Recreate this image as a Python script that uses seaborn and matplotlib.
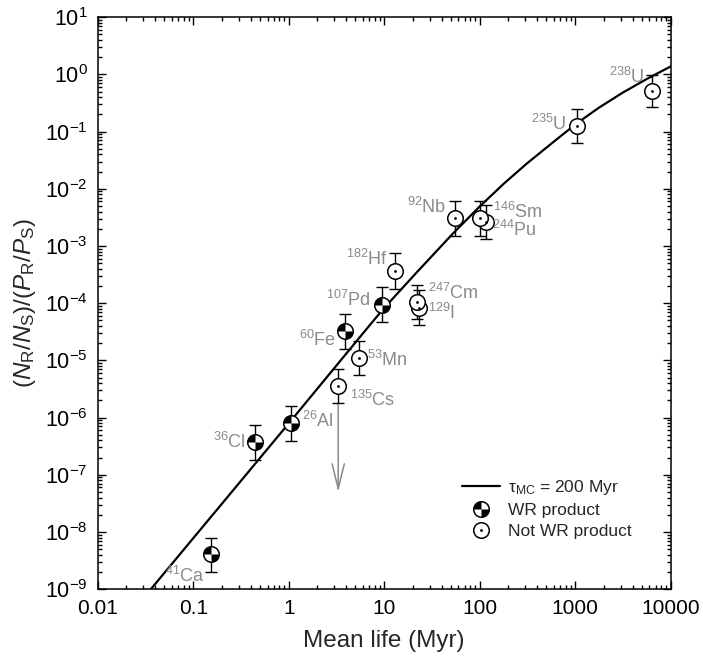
import matplotlib
matplotlib.use("Agg")
import matplotlib.pyplot as plt
import seaborn as sns
import pandas as pd
from matplotlib.path import Path
from matplotlib.lines import Line2D
from matplotlib.ticker import LogLocator, FixedLocator, FuncFormatter, NullFormatter

# style
sns.set_style("ticks")
plt.rcParams["font.family"] = ["Liberation Sans", "DejaVu Sans"]
plt.rcParams["mathtext.fontset"] = "custom"
plt.rcParams["mathtext.rm"] = "Liberation Sans"
plt.rcParams["mathtext.it"] = "Liberation Sans:italic"
plt.rcParams["mathtext.default"] = "regular"

# DATA
isotopes = ["41Ca", "36Cl", "26Al", "60Fe", "135Cs", "53Mn", "107Pd", "182Hf",
            "129I", "247Cm", "92Nb", "244Pu", "146Sm", "235U", "238U"]
mean_life = [0.152, 0.44, 1.05, 3.85, 3.3, 5.4, 9.4, 12.9,
             23.0, 21.8, 55, 117, 100, 1035, 6450]
ratio = [4.1e-9, 3.7e-7, 7.9e-7, 3.3e-5, 3.6e-6, 1.1e-5, 9.3e-5, 3.7e-4,
         8.4e-5, 1.07e-4, 3.1e-3, 2.6e-3, 3.1e-3, 0.125, 0.51]
ratio_low = [2.0e-9, 1.8e-7, 3.9e-7, 1.6e-5, 1.8e-6, 5.5e-6, 4.6e-5, 1.8e-4,
             4.2e-5, 5.3e-5, 1.5e-3, 1.3e-3, 1.5e-3, 0.063, 0.27]
ratio_high = [8.0e-9, 7.4e-7, 1.6e-6, 6.6e-5, 7.0e-6, 2.2e-5, 1.9e-4, 7.4e-4,
              1.7e-4, 2.1e-4, 6.2e-3, 5.2e-3, 6.2e-3, 0.25, 0.98]
wr_product = [True, True, True, True, False, False, True, False,
              False, False, False, False, False, False, False]

# 135Cs upper limit arrow end
cs_limit = 5e-8

# model curve, tau_MC = 200 Myr
curve_tau = [0.036, 1.0, 6.5, 9.7, 21.7, 52.6, 100, 178, 308, 562, 1030,
             1780, 3160, 5620, 9770, 10000]
curve_ratio = [1.0e-9, 7.9e-7, 3.5e-5, 7.8e-5, 3.4e-4, 1.66e-3, 4.9e-3, 1.22e-2,
               2.72e-2, 6.15e-2, 0.138, 0.263, 0.482, 0.832, 1.35, 1.38]

# label offsets in pixels (dx, dy, ha)
label_pos = {
    "41Ca": (-6, -22, "right"), "36Cl": (-9, 0, "right"), "26Al": (11, 2, "left"),
    "60Fe": (-9, -9, "right"), "135Cs": (12, -14, "left"), "53Mn": (8, -2, "left"),
    "107Pd": (-11, 5, "right"), "182Hf": (-7, 12, "right"), "129I": (9, -5, "left"),
    "247Cm": (11, 9, "left"), "92Nb": (-9, 11, "right"), "244Pu": (6, -8, "left"),
    "146Sm": (13, 6, "left"), "235U": (-10, 2, "right"), "238U": (-8, 14, "right"),
}

df = pd.DataFrame({"isotope": isotopes, "tau": mean_life, "ratio": ratio,
                   "low": ratio_low, "high": ratio_high, "wr": wr_product})
curve = pd.DataFrame({"tau": curve_tau, "ratio": curve_ratio})

quad = Path.make_compound_path(Path.wedge(90, 180), Path.wedge(270, 360))
gray = "#8a8a8a"
msize = 125
mdiam = 11.2

fig = plt.figure(figsize=(7.03, 6.62), dpi=100)
ax = fig.add_axes([0.139, 0.110, 0.815, 0.864])
ax.set_xscale("log")
ax.set_yscale("log")

sns.lineplot(data=curve, x="tau", y="ratio", color="black", lw=1.6, ax=ax, zorder=2)

ax.errorbar(df["tau"], df["ratio"],
            yerr=[df["ratio"] - df["low"], df["high"] - df["ratio"]],
            fmt="none", ecolor="black", elinewidth=1, capsize=4.5, capthick=1, zorder=2.5)

cs = df[df["isotope"] == "135Cs"].iloc[0]
ax.annotate("", xy=(cs["tau"], cs_limit), xytext=(cs["tau"], cs["low"]),
            arrowprops=dict(arrowstyle="->,head_length=0.9,head_width=0.22",
                            color=gray, lw=1.1, mutation_scale=20,
                            shrinkA=0, shrinkB=0), zorder=2)

wr = df[df["wr"]]
nwr = df[~df["wr"]]

sns.scatterplot(data=wr, x="tau", y="ratio", marker="o", s=msize,
                facecolor="white", edgecolor="black", linewidth=1.1, ax=ax, zorder=3)
sns.scatterplot(data=wr, x="tau", y="ratio", marker=quad, s=msize,
                color="black", linewidth=0, ax=ax, zorder=3.5)
sns.scatterplot(data=nwr, x="tau", y="ratio", marker="o", s=msize,
                facecolor="white", edgecolor="black", linewidth=1.1, ax=ax, zorder=3)
sns.scatterplot(data=nwr, x="tau", y="ratio", marker="o", s=4,
                color="black", linewidth=0, ax=ax, zorder=3.5)

for _, r in df.iterrows():
    dx, dy, ha = label_pos[r["isotope"]]
    num = "".join(c for c in r["isotope"] if c.isdigit())
    sym = "".join(c for c in r["isotope"] if not c.isdigit())
    ax.annotate(r"$^{%s}$%s" % (num, sym), (r["tau"], r["ratio"]),
                xytext=(dx, dy), textcoords="offset pixels",
                ha=ha, va="center", fontsize=13, color=gray, zorder=4)

ax.set_xlim(0.01, 10000)
ax.set_ylim(1e-9, 10)

ax.xaxis.set_major_locator(FixedLocator([0.01, 0.1, 1, 10, 100, 1000, 10000]))
ax.xaxis.set_major_formatter(FuncFormatter(lambda v, p: f"{v:g}"))
ax.xaxis.set_minor_locator(LogLocator(base=10, subs=range(2, 10), numticks=20))
ax.xaxis.set_minor_formatter(NullFormatter())
ax.yaxis.set_major_locator(LogLocator(base=10, numticks=20))
ax.yaxis.set_minor_locator(LogLocator(base=10, subs=range(2, 10), numticks=20))
ax.yaxis.set_minor_formatter(NullFormatter())

ax.tick_params(which="both", direction="in", top=True, right=True, width=1,
               colors="black")
ax.tick_params(which="major", length=6, pad=7)
ax.tick_params(which="minor", length=3)
ax.tick_params(axis="x", labelsize=15)
ax.tick_params(axis="y", labelsize=15.5)
for s in ax.spines.values():
    s.set_linewidth(1.1)
    s.set_color("black")

ax.set_xlabel("Mean life (Myr)", fontsize=17.5, labelpad=9)
ax.set_ylabel(r"$(\mathit{N}_\mathrm{R}/\mathit{N}_\mathrm{S})/(\mathit{P}_\mathrm{R}/\mathit{P}_\mathrm{S})$",
              fontsize=17.5, labelpad=5)

h_line = Line2D([], [], color="black", lw=1.6)
h_wr = (Line2D([], [], ls="none", marker="o", ms=mdiam, mfc="white", mec="black", mew=1.1),
        Line2D([], [], ls="none", marker=quad, ms=mdiam, mfc="black", mew=0))
h_nwr = (Line2D([], [], ls="none", marker="o", ms=mdiam, mfc="white", mec="black", mew=1.1),
         Line2D([], [], ls="none", marker="o", ms=2, mfc="black", mew=0))
ax.legend([h_line, h_wr, h_nwr],
          [r"$\mathrm{\tau_{MC}}$ = 200 Myr", "WR product", "Not WR product"],
          loc="lower right", bbox_to_anchor=(0.96, 0.06), frameon=False,
          fontsize=12.5, handlelength=2.2, handletextpad=0.5, labelspacing=0.35)

fig.savefig("out.png", dpi=100)
